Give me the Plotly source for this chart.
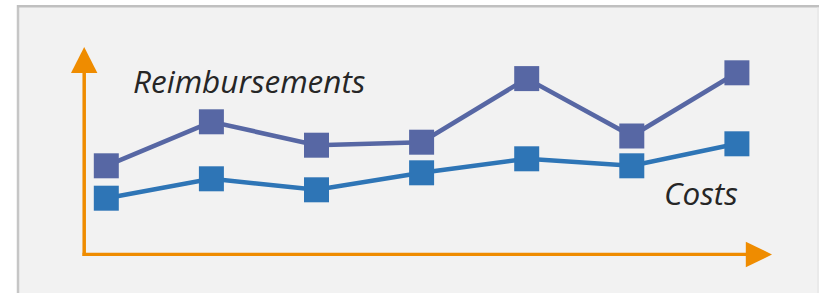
import plotly.graph_objects as go

# ---- data ----
periods = [1, 2, 3, 4, 5, 6, 7]
reimbursements = [4.41, 6.61, 5.44, 5.59, 8.77, 5.90, 9.06]
costs = [2.79, 3.76, 3.21, 4.06, 4.76, 4.41, 5.51]
series_names = ["Reimbursements", "Costs"]

W, H = 819, 293
ORANGE = "#EF8C00"
C_REIMB = "#5767A4"
C_COSTS = "#2E75B6"
TEXT = "#262626"


def px(x):
    return x / W


def py(y):
    return 1 - y / H


fig = go.Figure()
fig.add_trace(go.Scatter(
    x=periods, y=reimbursements, mode="lines+markers", name=series_names[0],
    line=dict(color=C_REIMB, width=4.6),
    marker=dict(symbol="square", size=25, color=C_REIMB),
))
fig.add_trace(go.Scatter(
    x=periods, y=costs, mode="lines+markers", name=series_names[1],
    line=dict(color=C_COSTS, width=4.6),
    marker=dict(symbol="square", size=25, color=C_COSTS),
))

shapes = []
# panel background
shapes.append(dict(type="rect", xref="paper", yref="paper", layer="below",
                   x0=px(18), x1=px(830), y0=py(6), y1=py(300),
                   fillcolor="#F2F2F2", line=dict(width=0)))
shapes.append(dict(type="line", xref="paper", yref="paper", layer="below",
                   x0=px(18), x1=px(18), y0=py(5), y1=py(300),
                   line=dict(color="#C6C6C6", width=2.5)))
shapes.append(dict(type="line", xref="paper", yref="paper", layer="below",
                   x0=px(17), x1=px(830), y0=py(6.2), y1=py(6.2),
                   line=dict(color="#C0C0C0", width=2.5)))
shapes.append(dict(type="line", xref="paper", yref="paper", layer="below",
                   x0=px(818), x1=px(818), y0=py(7), y1=py(300),
                   line=dict(color="#E2E2E2", width=1)))
# orange axes
shapes.append(dict(type="line", xref="paper", yref="paper", layer="below",
                   x0=px(84.2), x1=px(84.2), y0=py(70), y1=py(256),
                   line=dict(color=ORANGE, width=3.5)))
shapes.append(dict(type="line", xref="paper", yref="paper", layer="below",
                   x0=px(82.5), x1=px(748), y0=py(254.4), y1=py(254.4),
                   line=dict(color=ORANGE, width=3.4)))


def tri(pts):
    s = "M " + " L ".join(f"{px(a):.6f},{py(b):.6f}" for a, b in pts) + " Z"
    return dict(type="path", xref="paper", yref="paper", layer="below",
                path=s, fillcolor=ORANGE, line=dict(width=0))


shapes.append(tri([(84.2, 47), (71, 73), (97.4, 73)]))
shapes.append(tri([(772, 254.5), (745.8, 241.7), (745.8, 267.3)]))

fig.update_layout(
    width=W, height=H,
    margin=dict(l=0, r=0, t=0, b=0),
    paper_bgcolor="white", plot_bgcolor="rgba(0,0,0,0)",
    showlegend=False,
    xaxis=dict(range=[1 - 106.3 / 105.1, 1 + (W - 106.3) / 105.1],
               visible=False, fixedrange=True),
    yaxis=dict(range=[-1.95, 12.7], visible=False, fixedrange=True),
    shapes=shapes,
    annotations=[
        dict(text="<i>Reimbursements</i>", xref="paper", yref="paper",
             x=px(131), y=py(80), xanchor="left", yanchor="middle",
             showarrow=False, font=dict(family="Open Sans", size=31.5, color=TEXT)),
        dict(text="<i>Costs</i>", xref="paper", yref="paper",
             x=px(740), y=py(192), xanchor="right", yanchor="middle",
             showarrow=False, font=dict(family="Open Sans", size=31.5, color=TEXT)),
    ],
)

fig.write_html(
    "out.html",
    config={"displayModeBar": False, "staticPlot": True},
    post_script="document.body.style.margin='0';document.body.style.overflow='hidden';",
)
